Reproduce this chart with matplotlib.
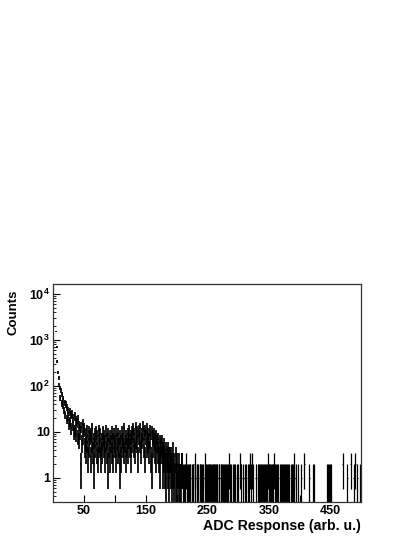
import numpy as np
import matplotlib
matplotlib.use('Agg')
import matplotlib.pyplot as plt

plt.rcParams['font.family'] = ['Liberation Sans', 'DejaVu Sans']
plt.rcParams['font.weight'] = 'bold'
plt.rcParams['mathtext.fontset'] = 'custom'
plt.rcParams['mathtext.rm'] = 'Liberation Sans:bold'
plt.rcParams['mathtext.bf'] = 'Liberation Sans:bold'
plt.rcParams['mathtext.default'] = 'bf'

# histogram: 500 bins of 1 ADC unit, from 0 to 500
bin_edges = np.arange(0, 501)

# bins 0-49: steep fall at low ADC (odd/even bins differ a lot)
counts_low = [0, 0, 0, 0, 1500, 700, 340, 200, 150, 105,
              90, 55, 80, 42, 65, 38, 52, 30, 44, 24,
              40, 19, 35, 22, 30, 15, 28, 17, 24, 12,
              25, 14, 20, 10, 22, 11, 18, 9, 16, 8,
              19, 7, 14, 10, 2, 13, 6, 15, 8, 11]

# bins 50-209: plateau, small bump near 140, edge near 180
counts_plateau = [12, 5, 9, 4, 11, 6, 3, 10, 5, 8,
                  3, 9, 6, 12, 4, 7, 2, 9, 5, 10,
                  4, 8, 3, 11, 6, 5, 9, 3, 7, 4,
                  10, 5, 8, 3, 6, 11, 4, 7, 2, 9,
                  5, 3, 8, 6, 10, 4, 7, 3, 9, 5,
                  6, 11, 3, 7, 4, 9, 5, 2, 8, 6,
                  3, 10, 5, 7, 4, 12, 6, 3, 8, 5,
                  9, 4, 7, 11, 5, 8, 3, 10, 6, 12,
                  5, 9, 4, 13, 7, 6, 10, 3, 11, 8,
                  6, 12, 4, 9, 7, 14, 5, 10, 3, 11,
                  8, 5, 12, 6, 9, 4, 11, 7, 3, 10,
                  2, 8, 5, 9, 4, 7, 3, 8, 6, 4,
                  7, 3, 6, 2, 5, 4, 6, 2, 4, 3,
                  5, 2, 4, 1, 3, 4, 2, 3, 1, 3,
                  2, 3, 1, 2, 4, 1, 2, 0, 3, 1,
                  2, 1, 0, 2, 1, 1, 0, 1, 2, 2]

# bins 210-499: sparse tail
counts_tail = [1, 0, 1, 1, 0, 2, 1, 0, 1, 1,
               0, 1, 1, 0, 1, 0, 1, 1, 0, 2,
               1, 0, 1, 1, 1, 0, 0, 1, 1, 0,
               1, 1, 0, 1, 0, 1, 2, 0, 1, 1,
               1, 0, 1, 1, 1, 0, 1, 1, 0, 1,
               1, 1, 1, 0, 1, 1, 1, 0, 1, 1,
               0, 1, 1, 1, 0, 1, 1, 0, 1, 0,
               1, 1, 0, 1, 0, 2, 1, 0, 1, 0,
               0, 1, 0, 1, 1, 0, 0, 1, 0, 0,
               1, 0, 0, 2, 0, 1, 0, 0, 1, 0,
               1, 0, 1, 0, 0, 1, 0, 1, 0, 2,
               1, 0, 2, 1, 0, 0, 0, 0, 1, 0,
               0, 1, 0, 0, 1, 1, 0, 1, 0, 1,
               1, 0, 1, 1, 0, 1, 1, 0, 2, 1,
               1, 1, 0, 1, 1, 0, 1, 2, 0, 1,
               0, 1, 0, 1, 1, 0, 0, 1, 0, 1,
               1, 0, 1, 0, 1, 1, 0, 1, 0, 1,
               0, 1, 1, 0, 0, 1, 0, 1, 0, 1,
               2, 1, 0, 1, 0, 0, 0, 1, 0, 0,
               0, 0, 1, 0, 0, 0, 0, 2, 0, 0,
               0, 0, 0, 0, 0, 1, 0, 0, 0, 0,
               0, 1, 0, 1, 0, 0, 0, 0, 0, 0,
               0, 0, 0, 0, 0, 0, 0, 0, 0, 0,
               0, 0, 0, 0, 1, 0, 1, 1, 0, 1,
               1, 0, 0, 0, 0, 0, 0, 0, 0, 0,
               0, 0, 0, 0, 0, 0, 0, 0, 0, 2,
               0, 0, 0, 0, 0, 0, 0, 1, 0, 0,
               0, 0, 2, 0, 0, 0, 0, 1, 0, 0,
               2, 0, 0, 1, 0, 0, 0, 0, 1, 0]

x_ticks = [50, 100, 150, 200, 250, 300, 350, 400, 450]
x_tick_labels = ['50', '', '150', '', '250', '', '350', '', '450']
y_ticks = [1, 10, 100, 1000, 10000]
y_tick_labels = ['1', '10', '$10^{2}$', '$10^{3}$', '$10^{4}$']

counts = np.array(counts_low + counts_plateau + counts_tail, dtype=float)
centers = bin_edges[:-1] + 0.5
n_body = len(counts_low) + len(counts_plateau)

fig = plt.figure(figsize=(4.15, 5.37), dpi=100)
ax = fig.add_axes([53.3 / 415, 35 / 537, 308 / 415, 218 / 537])
ax.set_yscale('log')

# ROOT style "E" drawing: sqrt(N) error bars, bin-width horizontal bars, empty bins skipped
# dense body drawn a bit heavier than the sparse tail
for sl, lw in [(slice(0, n_body), 1.25), (slice(n_body, None), 0.9)]:
    c = counts[sl]
    xc = centers[sl]
    filled = c > 0
    y = c[filled]
    err = np.sqrt(y)
    lo = np.minimum(err, y - 1e-3)
    ax.errorbar(xc[filled], y, yerr=[lo, err], xerr=0.5, fmt='none',
                ecolor='black', elinewidth=lw, capsize=0)

ax.set_xlim(0, 500)
ax.set_ylim(0.3, 1.65e4)

ax.set_xticks(x_ticks)
ax.set_xticklabels(x_tick_labels)
ax.set_yticks(y_ticks)
ax.set_yticklabels(y_tick_labels)
ax.yaxis.set_minor_formatter(matplotlib.ticker.NullFormatter())

ax.tick_params(which='both', direction='in', top=False, right=False, labelsize=9)
ax.tick_params(which='major', length=5, width=0.8)
ax.tick_params(which='minor', length=2.5, width=0.6)
ax.tick_params(axis='x', pad=2.5)
ax.tick_params(axis='y', pad=2.5)
for sp in ax.spines.values():
    sp.set_linewidth(0.9)
    sp.set_color('#333333')

ax.set_xlabel('ADC Response (arb. u.)', fontsize=10.2, fontweight='bold', loc='right', labelpad=1)
ax.set_ylabel('Counts', fontsize=9.5, fontweight='bold', loc='top')
ax.yaxis.set_label_coords(-0.11, 0.975)

fig.savefig('out.png', dpi=100)
